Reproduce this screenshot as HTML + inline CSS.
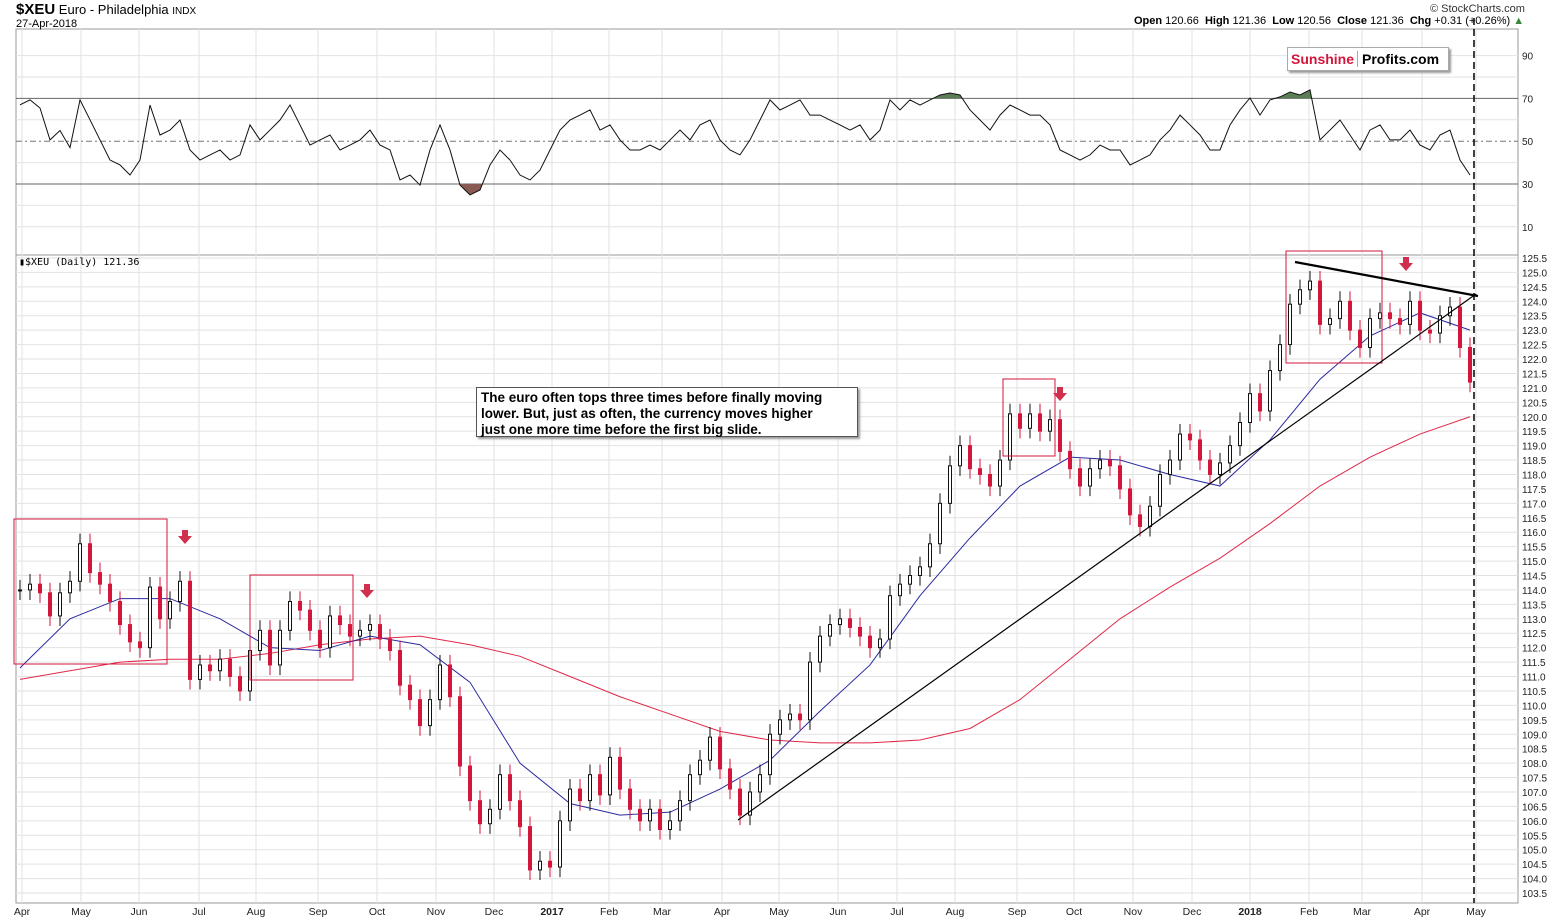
<!DOCTYPE html>
<html><head><meta charset="utf-8"><style>
body{margin:0;background:#fff;font-family:"Liberation Sans",Arial,sans-serif;}
svg text{font-family:"Liberation Sans",Arial,sans-serif;}
</style></head><body>
<svg id="c" width="1565" height="919" xmlns="http://www.w3.org/2000/svg"></svg>
<script>
const closes=[114.0,114.2,113.9,113.1,113.9,114.3,115.6,114.6,114.2,113.6,112.8,112.2,112.0,114.1,113.0,113.6,114.3,110.9,111.4,111.2,111.6,111.0,110.5,111.9,112.6,111.4,112.6,113.6,113.3,112.6,112.0,113.1,112.8,112.4,112.6,112.8,112.3,111.9,110.7,110.2,109.3,110.2,111.4,110.3,107.9,106.7,105.9,106.4,107.6,106.7,105.8,104.3,104.6,104.4,106.0,107.1,106.7,107.6,106.9,108.2,107.1,106.4,106.0,106.4,105.7,106.0,106.7,107.6,108.1,108.9,107.8,107.1,106.2,107.0,107.6,109.0,109.5,109.7,109.5,111.5,112.4,112.8,113.0,112.7,112.4,112.0,112.3,113.8,114.2,114.5,114.8,115.6,117.0,118.3,119.0,118.2,118.0,117.6,118.5,120.1,119.6,120.1,119.5,119.9,118.8,118.2,117.6,118.2,118.5,118.3,117.5,116.6,116.2,116.9,118.0,118.5,119.4,119.2,118.5,118.0,118.4,119.0,119.8,120.8,120.2,121.6,122.5,123.9,124.4,124.7,123.2,123.4,124.0,123.0,122.4,123.4,123.6,123.4,123.2,124.0,123.0,122.9,123.5,123.8,122.4,121.2];
const rsi=[67,69.3,65.5,50.6,55,47,69.3,60,50.6,41.2,38.9,34.2,41.2,66.9,52.9,55.2,59.9,45.9,41.2,43.6,45.9,41.2,43.6,57.6,50.6,55.2,59.9,66.9,57.6,48.2,50.6,52.9,45.9,48.2,50.6,55.2,48.2,45.9,31.9,34.2,29.5,45.9,57.6,45.9,29.5,24.9,27.2,38.9,45.9,41.2,34.2,31.9,36.5,45.9,55.2,59.9,62.2,64.6,55.2,57.6,50.6,45.9,45.9,48.2,45.9,50.6,55.2,50.6,57.6,59.9,50.6,45.9,43.6,50.6,59.9,69.3,64.6,66.9,69.3,62.2,62.2,59.9,57.6,55.2,57.6,50.6,55.2,69.3,64.6,69.3,66.9,69.3,71.6,72.5,71.6,64.6,59.9,55.2,62.2,66.9,64.6,62.2,62.2,57.6,45.9,43.6,41.2,43.6,48.2,45.9,45.9,38.9,41.2,43.6,50.6,55.2,62.2,57.6,52.9,45.9,45.9,57.6,64.6,70.2,62.2,69.3,70.7,73,71.6,74,50.6,55.2,59.9,52.9,45.9,55.2,57.6,50.6,50.6,55.2,48.2,45.9,52.9,55.2,41.2,34.2];
const ma200=[110.9,111.2,111.5,111.6,111.6,111.8,112.1,112.3,112.4,112.1,111.7,111.0,110.3,109.7,109.1,108.8,108.7,108.7,108.8,109.2,110.2,111.6,113.0,114.1,115.1,116.3,117.6,118.6,119.4,120.0];
const ma50=[111.3,113.0,113.7,113.7,113.0,112.0,111.9,112.4,112.1,110.8,108.0,106.6,106.2,106.3,107.1,108.1,109.8,111.4,113.8,115.8,117.6,118.6,118.5,118.0,117.6,119.2,121.3,122.8,123.6,123.0];
const maStep=5;
const monthLabels=["Apr","May","Jun","Jul","Aug","Sep","Oct","Nov","Dec","2017","Feb","Mar","Apr","May","Jun","Jul","Aug","Sep","Oct","Nov","Dec","2018","Feb","Mar","Apr","May"];
const monthIdx=[0.2,6.1,11.9,17.9,23.6,29.8,35.7,41.6,47.4,53.2,58.9,64.2,70.2,75.9,81.8,87.7,93.5,99.7,105.4,111.3,117.2,123.0,128.9,134.2,140.2,145.6];
const rsiTicks=[90,70,50,30,10];

const NS="http://www.w3.org/2000/svg",svg=document.getElementById('c');
function mk(t,a,p){const e=document.createElementNS(NS,t);for(const k in a)e.setAttribute(k,a[k]);(p||svg).appendChild(e);return e;}
const L=16,R=1518,RT=29,RB=255,PT=255,PB=903;
const X0=20,X1=1470,n=closes.length;
const x=i=>X0+i*(X1-X0)/(n-1);
const py=p=>258+(125.5-p)*(635/22);
const ry=v=>184-(v-30)*2.14;

mk('rect',{x:L,y:RT,width:R-L,height:RB-RT,fill:'#fff',stroke:'#999'});
mk('rect',{x:L,y:PT,width:R-L,height:PB-PT,fill:'#fff',stroke:'#999'});
monthIdx.forEach((m,k)=>{const gx=x(m);
 let g=mk('line',{x1:gx,x2:gx,y1:RT,y2:PB,stroke:'#e2e2e2'});
 
 let t=mk('text',{x:gx,y:915,'font-size':10.5,'text-anchor':'middle',fill:'#222','font-weight':/^\d{4}$/.test(monthLabels[k])?'bold':'normal'});
 t.textContent=monthLabels[k];
 });
for(let p=103.5;p<=125.51;p+=0.5){const gy=py(p);
 let g=mk('line',{x1:L,x2:R,y1:gy,y2:gy,stroke:'#e2e2e2'});
 
 let t=mk('text',{x:1522,y:gy+4,'font-size':10,fill:'#222'});t.textContent=p.toFixed(1);
 }
[10,20,40,60,80,90].forEach(v=>mk('line',{x1:L,x2:R,y1:ry(v),y2:ry(v),stroke:'#e2e2e2'}));
mk('line',{x1:L,x2:R,y1:ry(70),y2:ry(70),stroke:'#666'});
mk('line',{x1:L,x2:R,y1:ry(30),y2:ry(30),stroke:'#666'});
mk('line',{x1:L,x2:R,y1:ry(50),y2:ry(50),stroke:'#777','stroke-dasharray':'6,3,2,3'});
rsiTicks.forEach(v=>{let t=mk('text',{x:1522,y:ry(v)+4,'font-size':10,fill:'#222'});t.textContent=v;
 });
const defs=mk('defs',{});
const c1=mk('clipPath',{id:'above'},defs);mk('rect',{x:L,y:RT,width:R-L,height:ry(70)-RT},c1);
const c2=mk('clipPath',{id:'below'},defs);mk('rect',{x:L,y:ry(30),width:R-L,height:RB-ry(30)},c2);
let pts=rsi.map((v,i)=>x(i)+','+ry(v)).join(' ');
mk('polygon',{points:x(0)+','+ry(70)+' '+pts+' '+x(n-1)+','+ry(70),fill:'#5a7d55','clip-path':'url(#above)'});
mk('polygon',{points:x(0)+','+ry(30)+' '+pts+' '+x(n-1)+','+ry(30),fill:'#8a5a55','clip-path':'url(#below)'});
let rl=mk('polyline',{points:pts,fill:'none',stroke:'#111','stroke-width':1});

function maLine(arr,col,name){let e=mk('polyline',{points:arr.map((v,k)=>x(k*maStep)+','+py(v)).join(' '),fill:'none',stroke:col,'stroke-width':1});
 }
maLine(ma200,'#e0284a','ma-200-line');maLine(ma50,'#2a2aa0','ma-50-line');
closes.forEach((c,i)=>{const o=i?closes[i-1]:c;const hi=Math.max(o,c)+0.35,lo=Math.min(o,c)-0.35;
 const up=c>=o,col=up?'#111':'#d4163c',cx=x(i);
 const g=mk('g',{});
 
 mk('line',{x1:cx,x2:cx,y1:py(hi),y2:py(lo),stroke:col},g);
 const top=py(Math.max(o,c)),h=Math.max(1,py(Math.min(o,c))-top);
 mk('rect',{x:cx-1.5,y:top,width:3,height:h,fill:up?'#fff':col,stroke:col,'stroke-width':1},g);});
[[14,519,153,145],[250,575,103,105],[1003,379,52,77],[1286,251,96,112]].forEach(b=>{
 let r=mk('rect',{x:b[0],y:b[1],width:b[2],height:b[3],fill:'none',stroke:'#d4163c'});
 });
[[185,538],[367,592],[1060,395],[1406,265]].forEach(a=>{
 let p=mk('polygon',{points:`${a[0]-3},${a[1]-8} ${a[0]+3},${a[1]-8} ${a[0]+3},${a[1]-2} ${a[0]+7},${a[1]-2} ${a[0]},${a[1]+6} ${a[0]-7},${a[1]-2} ${a[0]-3},${a[1]-2}`,fill:'#d0304e'});
 });
let t1=mk('line',{x1:1295,y1:262,x2:1478,y2:296,stroke:'#000','stroke-width':2.2});

let t2=mk('line',{x1:738,y1:820,x2:1476,y2:294,stroke:'#000','stroke-width':1.2});

let dl=mk('line',{x1:1474,y1:18,x2:1474,y2:903,stroke:'#000','stroke-width':1.5,'stroke-dasharray':'7,4'});

</script>
<div style="position:absolute;left:16px;top:1px;font-size:13px;color:#000"><b style="font-size:15px">$XEU</b> Euro - Philadelphia <span style="font-size:10px">INDX</span></div>
<div style="position:absolute;left:16px;top:18px;font-size:11px">27-Apr-2018</div>
<div style="position:absolute;left:1430px;top:3px;font-size:11px;color:#333">© StockCharts.com</div>
<div style="position:absolute;left:1134px;top:15px;font-size:11px;color:#000;white-space:nowrap"><b>Open</b> 120.66 &nbsp;<b>High</b> 121.36 &nbsp;<b>Low</b> 120.56 &nbsp;<b>Close</b> 121.36 &nbsp;<b>Chg</b> +0.31 (+0.26%) <span style="color:#3a8a3a">▲</span></div>
<div style="position:absolute;left:1287px;top:47px;width:160px;height:22px;border:1px solid #aaa;box-shadow:2px 2px 2px #999;background:#fff;font-weight:bold;font-size:14px;line-height:22px;white-space:nowrap"><span style="color:#d4163c;padding:0 3px">Sunshine</span><span style="border-left:1px solid #aaa;padding:0 4px">Profits.com</span></div>
<div style="position:absolute;left:19px;top:257px;font-size:10px;font-family:'DejaVu Sans Mono',monospace">▮$XEU (Daily) 121.36</div>
<div style="position:absolute;left:476px;top:387px;width:372px;height:44px;border:1px solid #555;box-shadow:2px 2px 2px #999;background:#fff;padding:2px 4px;font-weight:bold;font-size:13.5px;line-height:16px;white-space:nowrap">The euro often tops three times before finally moving<br>lower. But, just as often, the currency moves higher<br>just one more time before the first big slide.</div>
</body></html>
